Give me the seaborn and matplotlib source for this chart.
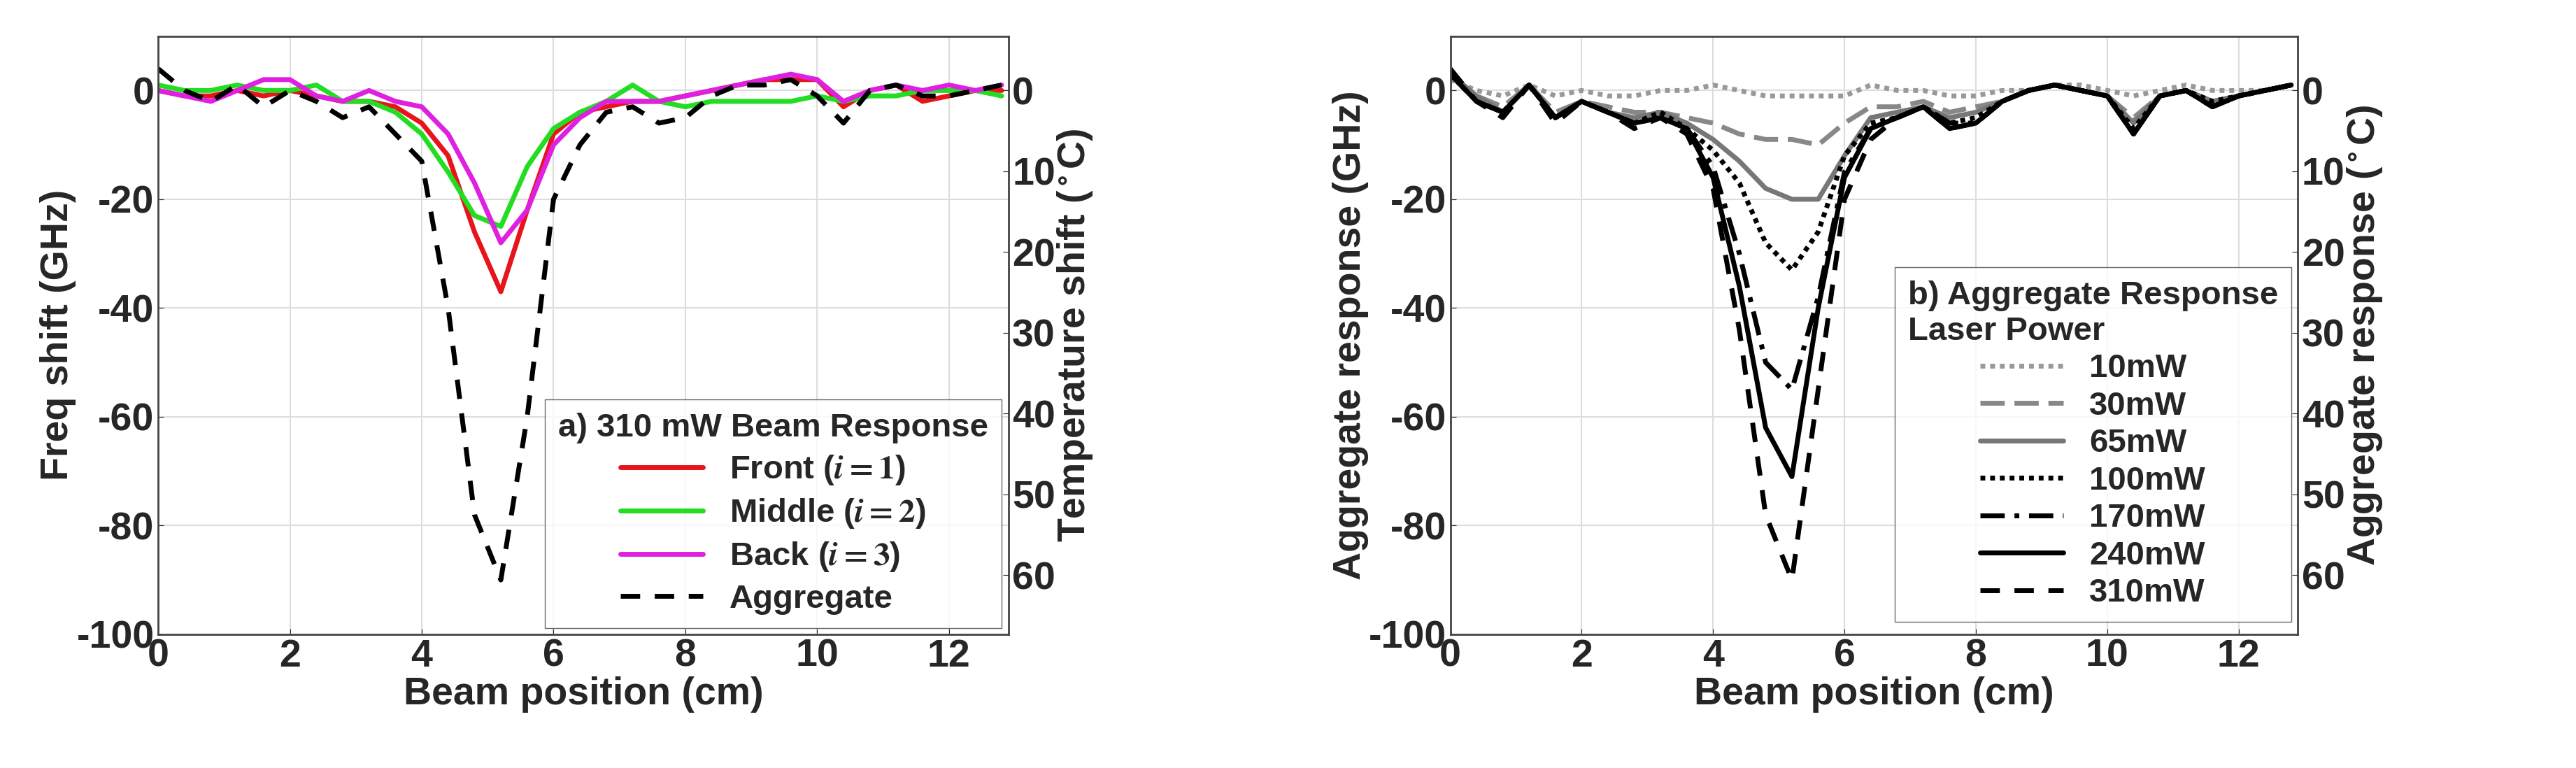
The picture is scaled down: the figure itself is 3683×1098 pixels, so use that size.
import numpy as np
import pandas as pd
import matplotlib
matplotlib.use("Agg")
import matplotlib.pyplot as plt
import seaborn as sns

x = [0, 0.4, 0.8, 1.2, 1.6, 2.0, 2.4, 2.8, 3.2, 3.6, 4.0, 4.4, 4.8, 5.2, 5.6, 6.0, 6.4,
     6.8, 7.2, 7.6, 8.0, 8.4, 8.8, 9.2, 9.6, 10.0, 10.4, 10.8, 11.2, 11.6, 12.0, 12.4, 12.8]

front = [0, -1, -1, 0, -1, 0, -1, -2, -2, -3, -6, -12, -26, -37, -22, -8, -4, -3, -2, -2, -1, 0, 1, 2, 2, 2, -3, 0, 1, -2, -1, 0, 0]
middle = [1, 0, 0, 1, 0, 0, 1, -2, -2, -4, -8, -15, -23, -25, -14, -7, -4, -2, 1, -2, -3, -2, -2, -2, -2, -1, -2, -1, -1, 0, 0, 0, -1]
back = [0, -1, -2, 0, 2, 2, -1, -2, 0, -2, -3, -8, -17, -28, -22, -10, -5, -2, -2, -2, -1, 0, 1, 2, 3, 2, -2, 0, 1, 0, 1, 0, 1]
aggregate = [4, 0, -2, 1, -3, 0, -2, -5, -3, -8, -13, -40, -78, -90, -60, -20, -10, -4, -3, -6, -5, -1, 1, 1, 2, -1, -6, 0, 1, -1, -1, 0, 1]

p10 = [2, 0, -1, 1, -1, 0, -1, -1, 0, 0, 1, 0, -1, -1, -1, -1, 1, 0, 0, -1, -1, 0, 0, 1, 1, 0, -1, 0, 1, 0, 0, 0, 1]
p30 = [3, -1, -3, 1, -4, -2, -3, -4, -4, -5, -6, -8, -9, -9, -10, -6, -3, -3, -2, -4, -3, -2, 0, 1, 0, -1, -5, -1, 0, -2, -1, 0, 1]
p65 = [3, -1, -4, 1, -5, -2, -4, -5, -4, -6, -9, -13, -18, -20, -20, -12, -5, -4, -3, -5, -4, -2, 0, 1, 0, -1, -6, -1, 0, -2, -1, 0, 1]
p100 = [3, -2, -4, 1, -5, -2, -4, -6, -4, -7, -11, -17, -28, -33, -26, -12, -6, -5, -3, -6, -5, -2, 0, 1, 0, -1, -7, -1, 0, -2, -1, 0, 1]
p170 = [3, -2, -4, 1, -5, -2, -4, -6, -5, -7, -14, -30, -50, -55, -38, -15, -7, -5, -3, -6, -6, -2, 0, 1, 0, -1, -8, -1, 0, -3, -1, 0, 1]
p240 = [3, -2, -4, 1, -5, -2, -4, -6, -5, -7, -16, -36, -62, -71, -40, -16, -7, -5, -3, -7, -6, -2, 0, 1, 0, -1, -8, -1, 0, -3, -1, 0, 1]
p310 = [4, -2, -5, 1, -6, -2, -4, -7, -5, -8, -18, -44, -78, -90, -55, -20, -9, -5, -3, -7, -6, -2, 0, 1, 0, -1, -8, -1, 0, -3, -1, 0, 1]

left_labels = ["Front ($i=1$)", "Middle ($i=2$)", "Back ($i=3$)", "Aggregate"]
right_labels = ["10mW", "30mW", "65mW", "100mW", "170mW", "240mW", "310mW"]

sns.set_style("whitegrid")
plt.rcParams['font.family'] = ['Liberation Sans', 'DejaVu Sans']
plt.rcParams['font.weight'] = 'bold'
plt.rcParams['axes.labelweight'] = 'bold'
plt.rcParams['mathtext.fontset'] = 'stix'
FS = 40
LFS = 34

fig = plt.figure(figsize=(36.83, 10.98), dpi=100)
ax1 = fig.add_axes([0.0614, 0.174, 0.33, 0.779])
ax2 = fig.add_axes([0.563, 0.174, 0.329, 0.779])

C = 1.485

def style(ax, ylabel, tlabel):
    ax.set_xlim(0, 12.9)
    ax.set_ylim(-100, 10)
    ax.set_yticks([0, -20, -40, -60, -80, -100])
    ax.set_yticklabels(["0", "-20", "-40", "-60", "-80", "-100"])
    ax.set_xticks([0, 2, 4, 6, 8, 10, 12])
    ax.grid(True, color='#dddddd', linewidth=1.5)
    for s in ax.spines.values():
        s.set_color('#444444'); s.set_linewidth(2)
    ax.tick_params(labelsize=FS, length=6, pad=4, direction='in', left=True, bottom=True)
    ax.set_xlabel("Beam position (cm)", fontsize=FS, labelpad=2)
    ax.set_ylabel(ylabel, fontsize=FS, labelpad=0)
    tw = ax.twinx()
    tw.set_ylim(100 / C, -10 / C)
    tw.set_yticks([0, 10, 20, 30, 40, 50, 60])
    tw.grid(False)
    tw.tick_params(labelsize=FS, length=6, pad=4, direction='in', right=True)
    tw.set_ylabel(tlabel, fontsize=FS, labelpad=0)
    for s in tw.spines.values():
        s.set_visible(False)

df1 = pd.DataFrame({"x": x, "front": front, "middle": middle, "back": back, "agg": aggregate})
for col, lab, c, ls in zip(["front", "middle", "back", "agg"], left_labels,
                           ["#e8141c", "#22dd22", "#e020e0", "black"],
                           ["-", "-", "-", (0, (4, 3))]):
    sns.lineplot(data=df1, x="x", y=col, ax=ax1, color=c, linestyle=ls, linewidth=5, label=lab)
style(ax1, "Freq shift (GHz)", "Temperature shift ($^\\circ$C)")
leg = ax1.legend(title="a) 310 mW Beam Response", loc="lower right", fontsize=LFS,
                 title_fontsize=LFS, frameon=True, fancybox=False, edgecolor='#444444',
                 handlelength=2.5, borderaxespad=0.2, labelspacing=0.3)
leg.get_title().set_fontweight('bold')

df2 = pd.DataFrame({"x": x, "10": p10, "30": p30, "65": p65, "100": p100,
                    "170": p170, "240": p240, "310": p310})
styles = [("#999999", (0, (1, 1))), ("#888888", (0, (5, 2))), ("#777777", "-"),
          ("black", (0, (1, 1))), ("black", (0, (5, 2, 1, 2))), ("black", "-"),
          ("black", (0, (4, 3)))]
for col, lab, (c, ls) in zip(["10", "30", "65", "100", "170", "240", "310"], right_labels, styles):
    sns.lineplot(data=df2, x="x", y=col, ax=ax2, color=c, linestyle=ls, linewidth=5, label=lab)
style(ax2, "Aggregate response (GHz)", "Aggregate response ($^\\circ$C)")
leg2 = ax2.legend(title="b) Aggregate Response\nLaser Power", loc="lower right",
                  bbox_to_anchor=(1.0, 0.01), fontsize=LFS, title_fontsize=LFS,
                  frameon=True, fancybox=False, edgecolor='#444444', handlelength=2.5,
                  borderaxespad=0.2, labelspacing=0.2)
leg2.get_title().set_fontweight('bold')

fig.savefig("out.png", dpi=100)
